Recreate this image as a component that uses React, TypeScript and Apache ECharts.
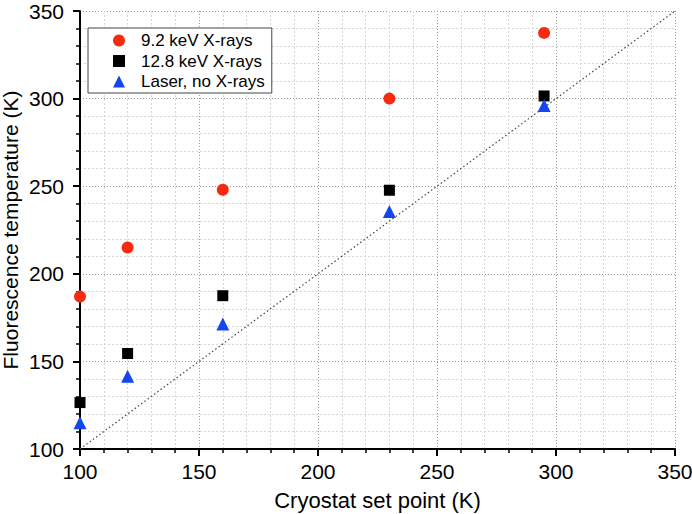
import React, { useEffect, useRef } from "react";
import * as echarts from "echarts";

const setPoints = [100, 120, 160, 230, 295];
const xray92 = [187, 215, 248, 300, 337.5];
const xray128 = [126.5, 154.5, 187.5, 247.7, 301.5];
const laserOnly = [115, 141.5, 171.4, 235.5, 296];
const diagonal = [100, 350];
const seriesNames = ["9.2 keV X-rays", "12.8 keV X-rays", "Laser, no X-rays"];

const FONT = "'Liberation Sans', Arial, Helvetica, sans-serif";

export default function App() {
  const ref = useRef<HTMLDivElement>(null);
  useEffect(() => {
    if (!ref.current) return;
    const chart = echarts.init(ref.current, null, { renderer: "svg" });
    const pair = (ys: number[]) => setPoints.map((x, i) => [x, ys[i]]);
    const axisCommon = {
      type: "value",
      min: 100,
      max: 350,
      interval: 50,
      axisLine: { show: true, onZero: false, lineStyle: { color: "#000", width: 2 } },
      axisTick: { show: true, inside: false, length: 7, lineStyle: { color: "#000", width: 2 } },
      minorTick: { show: true, splitNumber: 5, length: 4, lineStyle: { color: "#000", width: 1.5 } },
      splitLine: { show: true, lineStyle: { color: "#9a9a9a", type: [1, 2], width: 1 } },
      minorSplitLine: { show: true, lineStyle: { color: "#d6d6d6", type: [2, 2], width: 1 } },
      nameLocation: "middle",
      nameMoveOverlap: false,
      nameTextStyle: { fontFamily: FONT, fontSize: 22, color: "#000" },
    };
    chart.setOption({
      animation: false,
      backgroundColor: "#fff",
      grid: { left: 80, right: 17, top: 11, bottom: 65, containLabel: false, outerBoundsMode: "none" },
      xAxis: {
        ...axisCommon,
        name: "Cryostat set point (K)",
        nameGap: 40,
        axisLabel: { fontFamily: FONT, fontSize: 21, color: "#000", margin: 12 },
      },
      yAxis: {
        ...axisCommon,
        name: "Fluorescence temperature (K)",
        nameGap: 59,
        nameTextStyle: { fontFamily: FONT, fontSize: 21, color: "#000" },
        axisLabel: { fontFamily: FONT, fontSize: 21, color: "#000", margin: 16 },
      },
      legend: {
        data: [
          { name: seriesNames[0], icon: "circle" },
          { name: seriesNames[1], icon: "rect" },
          { name: seriesNames[2], icon: "triangle" },
        ],
        orient: "vertical",
        left: 88,
        top: 28,
        padding: [4, 7, 3, 25],
        itemWidth: 12,
        itemHeight: 12,
        itemGap: 3.5,
        selectedMode: false,
        borderColor: "#444",
        borderWidth: 1,
        backgroundColor: "#fff",
        textStyle: { fontFamily: FONT, fontSize: 17, color: "#000", padding: [0, 0, 0, 11] },
      },
      series: [
        {
          type: "line",
          data: [[diagonal[0], diagonal[0]], [diagonal[1], diagonal[1]]],
          showSymbol: false,
          symbol: "none",
          silent: true,
          lineStyle: { color: "#444", width: 1.2, type: [1.5, 2.5] },
          z: 1,
        },
        {
          name: seriesNames[0],
          type: "scatter",
          symbol: "circle",
          symbolSize: 12,
          itemStyle: { color: "#f7290e", opacity: 1 },
          data: pair(xray92),
          z: 3,
        },
        {
          name: seriesNames[1],
          type: "scatter",
          symbol: "rect",
          symbolSize: 11,
          itemStyle: { color: "#000", opacity: 1 },
          data: pair(xray128),
          z: 3,
        },
        {
          name: seriesNames[2],
          type: "scatter",
          symbol: "triangle",
          symbolSize: 13,
          itemStyle: { color: "#1446f0", opacity: 1 },
          data: pair(laserOnly),
          z: 4,
        },
      ],
    });
    return () => chart.dispose();
  }, []);
  return <div ref={ref} style={{ width: 692, height: 514, position: "absolute", left: 0, top: 0 }} />;
}
